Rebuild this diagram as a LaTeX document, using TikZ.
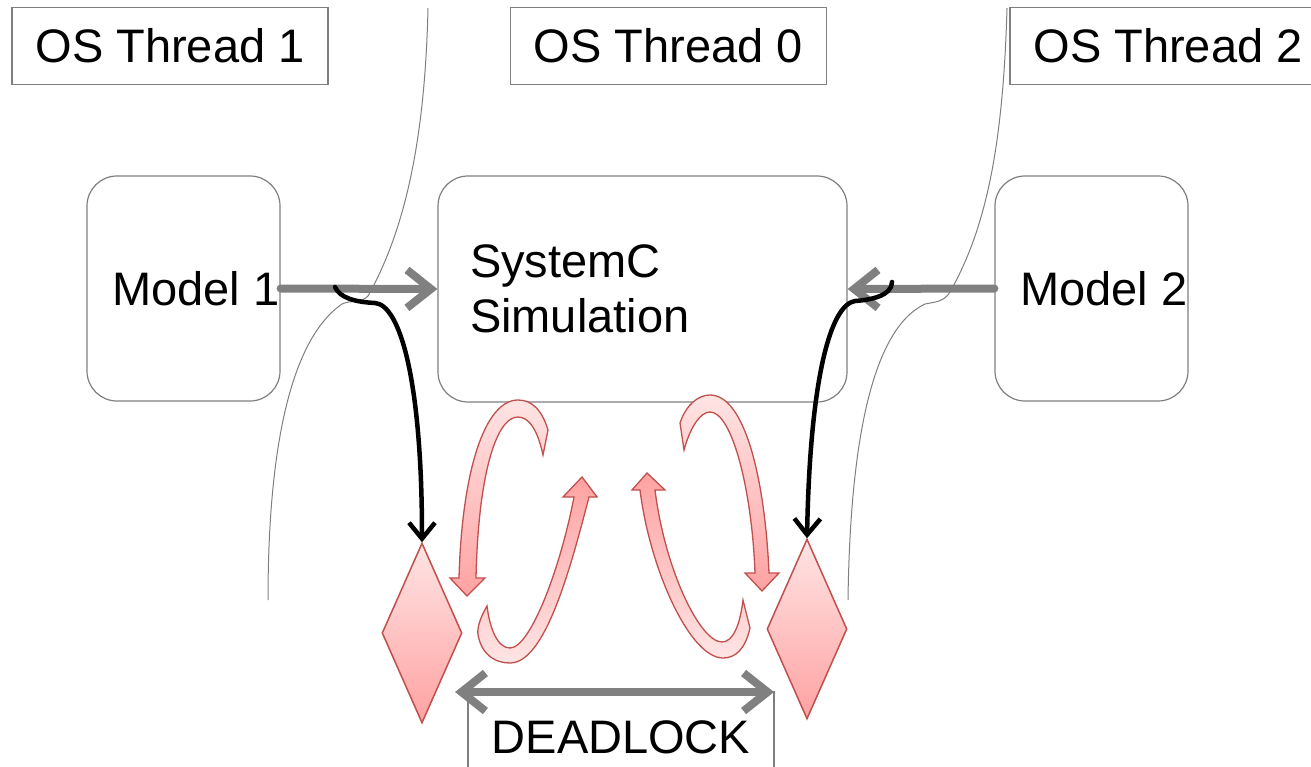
\documentclass[tikz,border=0pt]{standalone}
\usepackage{fontspec}
\setmainfont{Liberation Sans}
\usetikzlibrary{shapes,arrows.meta,positioning,calc}

\definecolor{boxgray}{RGB}{127,127,127}
\definecolor{arrgray}{RGB}{128,128,128}
\definecolor{redline}{RGB}{192,80,77}
\definecolor{pinklight}{RGB}{255,228,228}
\definecolor{pinkdark}{RGB}{255,162,162}

\begin{document}
\begin{tikzpicture}[x=1pt, y=-1pt,
    font=\fontsize{47}{55}\selectfont,
    graybarb/.tip={Straight Barb[length=24pt, width=38pt]},
    blackbarb/.tip={Straight Barb[length=16pt, width=26pt]},
    threadbox/.style={rectangle, draw=boxgray, line width=1.2pt, minimum width=316pt, minimum height=77pt, inner sep=0pt},
    roundbox/.style={rectangle, rounded corners=30pt, draw=boxgray, line width=1.2pt, inner sep=0pt},
    lockdiamond/.style={diamond, draw=redline, line width=1.5pt, top color=pinklight, bottom color=pinkdark, minimum width=80pt, minimum height=180pt, inner sep=0pt},
    grayarrow/.style={draw=arrgray, line width=8pt, line cap=round},
    blackarrow/.style={draw=black, line width=4.5pt, line cap=round, -blackbarb},
    sepline/.style={draw=boxgray, line width=1pt},
    loopshape/.style={draw=redline, line width=1.3pt}]
    \useasboundingbox (0,0) rectangle (1311,767);

    % thread labels
    \node[threadbox] (thr1) at (170,46) {OS Thread 1};
    \node[threadbox] (thr0) at (668.5,46) {OS Thread 0};
    \node[threadbox] (thr2) at (1168,46) {OS Thread 2};

    % models and kernel
    \node[roundbox, minimum width=193pt, minimum height=225pt] (model1) at (183.5,288.5) {\hspace*{25pt}Model 1};
    \node[roundbox, minimum width=409pt, minimum height=226pt, text width=345pt, align=left, inner xsep=32pt] (sysc) at (642.5,289) {SystemC\\Simulation};
    \node[roundbox, minimum width=193pt, minimum height=225pt] (model2) at (1091.5,288.5) {\hspace*{25pt}Model 2};

    % locks
    \node[lockdiamond] (diamL) at (422,633) {};
    \node[lockdiamond] (diamR) at (807,629) {};
    \node[rectangle, draw=boxgray, line width=1.2pt, minimum width=306pt, minimum height=90pt] (lock) at (621,737) {DEADLOCK};

    \draw[grayarrow, -graybarb] (model1.east) -- (sysc.west);
    \draw[grayarrow, -graybarb] (model2.west) -- (sysc.east);

    % thread borders
    \draw[sepline] (428,8) .. controls (425,140) and (405,230) .. (368,296)
        .. controls (362,303) and (350,300) .. (342,304)
        .. controls (290,340) and (268,450) .. (268,600);
    \draw[sepline] (1007,8) .. controls (1003,150) and (985,230) .. (950,292)
        .. controls (944,302) and (935,302) .. (925,304)
        .. controls (870,330) and (850,450) .. (848,600);

    % waiting loops
    \draw[loopshape, top color=pinklight, bottom color=pinkdark]
        (548,430) .. controls (542,410) and (532,400) .. (518,400)
        .. controls (485,400) and (462,470) .. (459,578) -- (450,578) -- (467,596) -- (485,578) -- (476,578)
        .. controls (478,480) and (495,417) .. (518,417)
        .. controls (530,417) and (538,432) .. (543,455) -- cycle;
    \draw[loopshape, top color=pinkdark, bottom color=pinklight]
        (487,606) .. controls (480,618) and (477,628) .. (478,635)
        .. controls (482,655) and (495,663) .. (510,663)
        .. controls (545,663) and (570,570) .. (589,497) -- (597,497) -- (582,477) -- (563,497) -- (574,497)
        .. controls (560,570) and (530,648) .. (510,648)
        .. controls (498,648) and (490,630) .. (487,606) -- cycle;
    \draw[loopshape, top color=pinklight, bottom color=pinkdark]
        (680,423) .. controls (686,405) and (698,395) .. (710,395)
        .. controls (745,395) and (765,480) .. (769,573) -- (779,573) -- (762,591) -- (745,573) -- (755,573)
        .. controls (752,490) and (732,412) .. (710,412)
        .. controls (700,412) and (690,428) .. (684,450) -- cycle;
    \draw[loopshape, top color=pinkdark, bottom color=pinklight]
        (750,628) .. controls (745,650) and (735,658) .. (723,658)
        .. controls (690,658) and (650,570) .. (640,490) -- (632,490) -- (647,473) -- (665,490) -- (655,490)
        .. controls (665,570) and (700,642) .. (722,642)
        .. controls (733,642) and (740,625) .. (743,600) -- cycle;

    % blocking calls
    \coordinate (grab1) at (335,287);
    \coordinate (grab2) at (892,282);
    \draw[blackarrow] (grab1) .. controls (340,298) and (355,302) .. (375,303)
        .. controls (400,305) and (422,380) .. (diamL.north);
    \draw[blackarrow] (grab2) .. controls (892,296) and (870,300) .. (855,301)
        .. controls (830,305) and (810,380) .. (diamR.north);

    \coordinate (lockL) at (455,692);
    \coordinate (lockR) at (774,692);
    \draw[grayarrow, graybarb-graybarb] (lockL) -- (lockR);
\end{tikzpicture}
\end{document}
